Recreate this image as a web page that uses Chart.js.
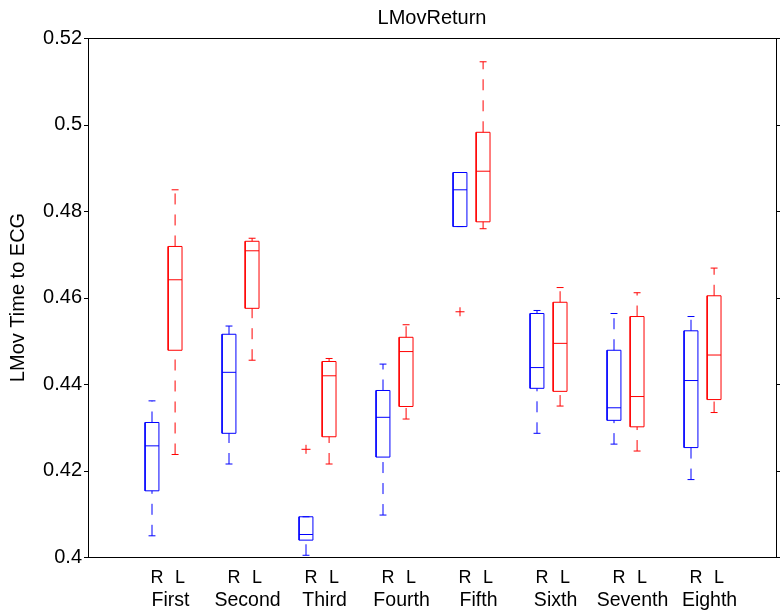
<!DOCTYPE html>
<html>
<head>
<meta charset="utf-8">
<script src="https://cdn.jsdelivr.net/npm/chart.js@4.4.1/dist/chart.umd.min.js"></script>
<style>
  html, body { margin: 0; padding: 0; background: #fff; }
  canvas { display: block; }
</style>
</head>
<body>
<canvas id="boxChart" width="780" height="612"></canvas>
<script>
// categories
const groups = ['First', 'Second', 'Third', 'Fourth', 'Fifth', 'Sixth', 'Seventh', 'Eighth'];
const sides = ['R', 'L'];
const yTicks = [0.40, 0.42, 0.44, 0.46, 0.48, 0.50, 0.52];

// R boxes (blue): upper whisker, q3, median, q1, lower whisker
const rUpper = [0.4361, 0.4534, 0.4093, 0.4446, 0.4889, 0.4570, 0.4563, 0.4556];
const rQ3    = [0.4311, 0.4515, 0.4093, 0.4385, 0.4889, 0.4563, 0.4478, 0.4523];
const rMed   = [0.4257, 0.4427, 0.4052, 0.4323, 0.4849, 0.4438, 0.4345, 0.4408];
const rQ1    = [0.4153, 0.4286, 0.4039, 0.4231, 0.4764, 0.4390, 0.4316, 0.4253];
const rLower = [0.4049, 0.4215, 0.4004, 0.4097, 0.4764, 0.4286, 0.4261, 0.4179];

// L boxes (red)
const lUpper = [0.4849, 0.4737, 0.4459, 0.4537, 0.5145, 0.4623, 0.4611, 0.4668];
const lQ3    = [0.4718, 0.4730, 0.4452, 0.4508, 0.4982, 0.4589, 0.4556, 0.4604];
const lMed   = [0.4641, 0.4708, 0.4419, 0.4475, 0.4892, 0.4494, 0.4371, 0.4467];
const lQ1    = [0.4478, 0.4575, 0.4278, 0.4348, 0.4775, 0.4383, 0.4301, 0.4364];
const lLower = [0.4237, 0.4455, 0.4215, 0.4319, 0.4759, 0.4349, 0.4245, 0.4334];

// outliers (drawn red, at the R box of the group)
const outlierGroup = [2, 4];
const outlierValue = [0.4249, 0.4567];

// layout of boxes in x units (one unit per group)
const sideGap = 0.3;
const boxHalf = 0.09;
const capHalf = 0.045;

function posOf(g, s){
    return g + 1 + s * sideGap;
}

function boxLines(s, q1, q3, med){
    const pts = [];
    groups.forEach((name, g) => {
        const x = posOf(g, s);
        pts.push({x: x - boxHalf, y: q1[g]}, {x: x + boxHalf, y: q1[g]},
                 {x: x + boxHalf, y: q3[g]}, {x: x - boxHalf, y: q3[g]},
                 {x: x - boxHalf, y: q1[g]}, {x: x, y: null},
                 {x: x - boxHalf, y: med[g]}, {x: x + boxHalf, y: med[g]}, {x: x, y: null});
    });
    return pts;
}

function whiskerLines(s, lower, q1, q3, upper){
    const pts = [];
    groups.forEach((name, g) => {
        const x = posOf(g, s);
        pts.push({x: x, y: lower[g]}, {x: x, y: q1[g]}, {x: x, y: null},
                 {x: x, y: q3[g]}, {x: x, y: upper[g]}, {x: x, y: null});
    });
    return pts;
}

function capLines(s, lower, upper){
    const pts = [];
    groups.forEach((name, g) => {
        const x = posOf(g, s);
        pts.push({x: x - capHalf, y: lower[g]}, {x: x + capHalf, y: lower[g]}, {x: x, y: null},
                 {x: x - capHalf, y: upper[g]}, {x: x + capHalf, y: upper[g]}, {x: x, y: null});
    });
    return pts;
}

function lineSet(data, color, dash){
    return {
        type: 'line',
        data: data,
        borderColor: color,
        borderWidth: 1,
        borderDash: dash || [],
        pointRadius: 0,
        fill: false,
        tension: 0,
        spanGaps: false
    };
}

const blue = '#0000ff';
const red = '#ff0000';

const datasets = [
    lineSet(whiskerLines(0, rLower, rQ1, rQ3, rUpper), blue, [11, 10]),
    lineSet(whiskerLines(1, lLower, lQ1, lQ3, lUpper), red, [11, 10]),
    lineSet(capLines(0, rLower, rUpper), blue),
    lineSet(capLines(1, lLower, lUpper), red),
    lineSet(boxLines(0, rQ1, rQ3, rMed), blue),
    lineSet(boxLines(1, lQ1, lQ3, lMed), red),
    {
        type: 'scatter',
        data: outlierGroup.map((g, i) => ({x: posOf(g, 0), y: outlierValue[i]})),
        pointStyle: 'cross',
        pointRadius: 4.5,
        borderColor: red,
        borderWidth: 1,
        backgroundColor: red
    }
];

const xMin = 1 - 64 / 77;
const xMax = 1 + 624 / 77;

// frame around the plot with the y ticks on both sides
const framePlugin = {
    id: 'frame',
    afterDatasetsDraw(chart){
        const {ctx, chartArea: a, scales: {y}} = chart;
        ctx.save();
        ctx.strokeStyle = '#000';
        ctx.lineWidth = 1;
        ctx.strokeRect(Math.round(a.left) + 0.5, Math.round(a.top) + 0.5,
                       Math.round(a.right - a.left), Math.round(a.bottom - a.top));
        ctx.beginPath();
        y.ticks.forEach(t => {
            const py = Math.round(y.getPixelForValue(t.value)) + 0.5;
            ctx.moveTo(a.left - 4, py); ctx.lineTo(a.left, py);
            ctx.moveTo(a.right, py); ctx.lineTo(a.right + 4, py);
        });
        ctx.stroke();
        ctx.restore();
    }
};

const family = '"Liberation Sans", Arial, Helvetica, sans-serif';
const font = {family: family, size: 18};
const bigFont = {family: family, size: 20};

new Chart(document.getElementById('boxChart'), {
    type: 'line',
    data: {datasets: datasets},
    options: {
        responsive: false,
        animation: false,
        layout: {autoPadding: false, padding: {left: 0, right: 4, top: 0, bottom: 0}},
        plugins: {
            legend: {display: false},
            tooltip: {enabled: false}
        },
        scales: {
            top: {
                type: 'linear',
                position: 'top',
                min: xMin,
                max: xMax,
                grid: {display: false, drawTicks: false},
                border: {display: false},
                ticks: {display: false},
                afterFit: s => { s.height = 38; },
                title: {
                    display: true,
                    text: 'LMovReturn',
                    color: '#000',
                    font: bigFont,
                    padding: {top: 6, bottom: 0}
                }
            },
            x: {
                type: 'linear',
                min: xMin,
                max: xMax,
                weight: 0,
                grid: {display: false, drawTicks: false},
                border: {display: false},
                afterBuildTicks: s => {
                    s.ticks = [];
                    groups.forEach((name, g) => sides.forEach((sd, k) => s.ticks.push({value: posOf(g, k)})));
                },
                afterFit: s => { s.height = 32; },
                ticks: {
                    autoSkip: false,
                    maxRotation: 0,
                    padding: 10,
                    labelOffset: 5,
                    color: '#000',
                    font: font,
                    callback: (v, i) => sides[i % 2]
                }
            },
            x2: {
                type: 'linear',
                position: 'bottom',
                min: xMin,
                max: xMax,
                weight: 1,
                grid: {display: false, drawTicks: false},
                border: {display: false},
                afterBuildTicks: s => {
                    s.ticks = groups.map((name, g) => ({value: posOf(g, 0.5)}));
                },
                afterFit: s => { s.height = 23; },
                ticks: {
                    autoSkip: false,
                    maxRotation: 0,
                    padding: 0,
                    labelOffset: 7,
                    color: '#000',
                    font: {family: family, size: 19.5},
                    callback: (v, i) => groups[i]
                }
            },
            y: {
                min: yTicks[0],
                max: yTicks[yTicks.length - 1],
                grid: {display: false, drawTicks: false},
                border: {display: false},
                afterBuildTicks: s => { s.ticks = yTicks.map(v => ({value: v})); },
                afterFit: s => { s.width = 88; },
                ticks: {
                    padding: 6,
                    color: '#000',
                    font: bigFont,
                    callback: v => String(Math.round(v * 100) / 100)
                },
                title: {
                    display: true,
                    text: 'LMov Time to ECG',
                    color: '#000',
                    font: bigFont,
                    padding: {top: 6, bottom: 0}
                }
            }
        }
    },
    plugins: [framePlugin]
});
</script>
</body>
</html>
